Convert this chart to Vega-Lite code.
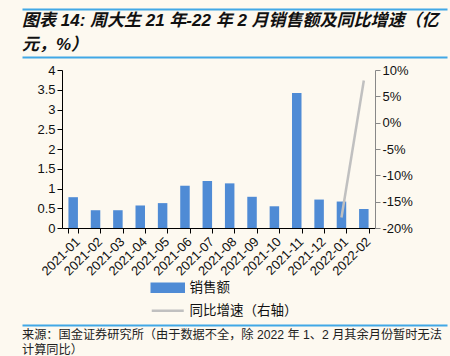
{
  "$schema": "https://vega.github.io/schema/vega-lite/v6.json",
  "background": "#FDF9F0",
  "padding": {"left": 22, "top": 9, "right": 3, "bottom": 0},
  "spacing": 7,
  "resolve": {"scale": {"color": "independent"}, "legend": {"color": "independent"}},
  "vconcat": [
    {
      "width": 385,
      "height": 48,
      "data": {"values": [
        {"line": 1, "text": "图表 14: 周大生 21 年-22 年 2 月销售额及同比增速（亿"},
        {"line": 2, "text": "元，%）"}
      ]},
      "layer": [
        {
          "mark": {"type": "text", "align": "left", "baseline": "middle", "fontSize": 17, "fontStyle": "italic", "fontWeight": "bold", "font": "Liberation Sans, Noto Sans CJK SC", "color": "#111111"},
          "encoding": {
            "text": {"field": "text"},
            "x": {"datum": 0, "type": "quantitative", "scale": {"domain": [0, 1], "range": [-40, 385]},
                  "axis": {"orient": "top", "domain": true, "domainColor": "#41A8E6", "domainWidth": 2, "ticks": false, "labels": false, "grid": false, "title": null}},
            "y": {"field": "line", "type": "ordinal", "axis": null}
          }
        },
        {
          "data": {"values": []},
          "mark": {"type": "text"},
          "encoding": {
            "x": {"datum": 0, "type": "quantitative",
                  "axis": {"orient": "bottom", "domain": true, "domainColor": "#41A8E6", "domainWidth": 2, "ticks": false, "labels": false, "grid": false, "title": null}}
          }
        }
      ],
      "resolve": {"axis": {"x": "independent"}}
    },
    {
      "width": 313,
      "height": 158,
      "data": {"values": [
        {"month": "2021-01", "sales": 0.78, "yoy": null},
        {"month": "2021-02", "sales": 0.45, "yoy": null},
        {"month": "2021-03", "sales": 0.45, "yoy": null},
        {"month": "2021-04", "sales": 0.57, "yoy": null},
        {"month": "2021-05", "sales": 0.63, "yoy": null},
        {"month": "2021-06", "sales": 1.07, "yoy": null},
        {"month": "2021-07", "sales": 1.19, "yoy": null},
        {"month": "2021-08", "sales": 1.13, "yoy": null},
        {"month": "2021-09", "sales": 0.79, "yoy": null},
        {"month": "2021-10", "sales": 0.55, "yoy": null},
        {"month": "2021-11", "sales": 3.42, "yoy": null},
        {"month": "2021-12", "sales": 0.72, "yoy": null},
        {"month": "2022-01", "sales": 0.67, "yoy": -18},
        {"month": "2022-02", "sales": 0.48, "yoy": 8}
      ]},
      "encoding": {
        "x": {"field": "month", "type": "ordinal", "sort": null,
              "scale": {"paddingInner": 0.575, "paddingOuter": 0.2875},
              "axis": {"title": null, "labelAngle": -45, "tickBand": "extent", "domainColor": "#000000", "tickColor": "#000000", "tickSize": 5, "labelFontSize": 13, "labelFont": "Liberation Sans", "labelColor": "#111111", "grid": false, "labelPadding": 2}}
      },
      "layer": [
        {
          "mark": {"type": "bar"},
          "encoding": {
            "y": {"field": "sales", "type": "quantitative", "scale": {"domain": [0, 4]},
                  "axis": {"title": null, "values": [0, 0.5, 1, 1.5, 2, 2.5, 3, 3.5, 4], "format": "~g", "domainColor": "#000000", "tickColor": "#000000", "tickSize": 5, "labelFontSize": 13, "labelFont": "Liberation Sans", "labelColor": "#111111", "grid": false, "labelPadding": 2}},
            "color": {"datum": "销售额", "type": "nominal",
                      "scale": {"domain": ["销售额", "同比增速（右轴）"], "range": ["#4F8BD5", "#C0C0C0"]},
                      "legend": {"title": null, "orient": "none", "legendX": 99, "legendY": 211, "direction": "vertical",
                                 "symbolSize": 100, "labelOffset": 15, "rowPadding": 6, "labelFontSize": 13.5, "labelFont": "Noto Sans CJK SC", "labelColor": "#111111",
                                 "encode": {"symbols": {"update": {
                                   "shape": {"signal": "datum.value === '销售额' ? 'M-3.2,-0.8H3.2V0.8H-3.2Z' : 'M-3.2,0H3.2'"},
                                   "fill": {"signal": "datum.value === '销售额' ? '#4F8BD5' : 'transparent'"},
                                   "stroke": {"signal": "datum.value === '销售额' ? 'transparent' : '#C0C0C0'"},
                                   "strokeWidth": {"value": 2.5},
                                   "opacity": {"value": 1}
                                 }}}}}
          }
        },
        {
          "transform": [{"filter": "isValid(datum.yoy)"}],
          "mark": {"type": "line", "strokeWidth": 2.5},
          "encoding": {
            "y": {"field": "yoy", "type": "quantitative", "scale": {"domain": [-20, 10]},
                  "axis": {"orient": "right", "title": null, "values": [-20, -15, -10, -5, 0, 5, 10], "labelExpr": "datum.value + '%'", "domainColor": "#888888", "tickColor": "#888888", "tickSize": 5, "labelFontSize": 13, "labelFont": "Liberation Sans", "labelColor": "#111111", "grid": false, "labelPadding": 2}},
            "color": {"datum": "同比增速（右轴）", "type": "nominal"}
          }
        }
      ],
      "resolve": {"scale": {"y": "independent"}}
    },
    {
      "width": 385,
      "height": 35,
      "data": {"values": [
        {"line": 1, "text": "来源：国金证券研究所（由于数据不全，除 2022 年 1、2 月其余月份暂时无法"},
        {"line": 2, "text": "计算同比）"}
      ]},
      "mark": {"type": "text", "align": "left", "baseline": "middle", "fontSize": 12.2, "font": "Liberation Sans, Noto Sans CJK SC", "color": "#222222"},
      "encoding": {
        "text": {"field": "text"},
        "x": {"datum": 0, "type": "quantitative", "scale": {"domain": [0, 1], "range": [-40, 385]},
              "axis": {"orient": "top", "domain": true, "domainColor": "#41A8E6", "domainWidth": 2, "ticks": false, "labels": false, "grid": false, "title": null}},
        "y": {"field": "line", "type": "ordinal", "axis": null, "scale": {"padding": 0.667}}
      }
    }
  ],
  "config": {"view": {"stroke": null}, "axis": {"grid": false}}
}
